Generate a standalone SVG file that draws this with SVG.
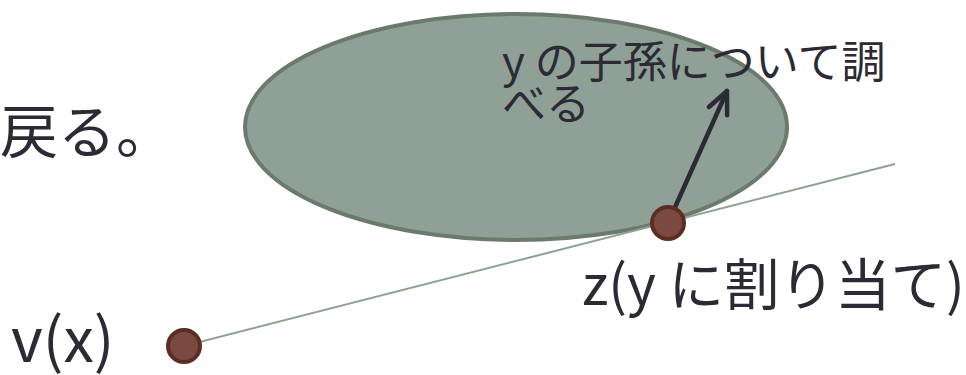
<svg xmlns="http://www.w3.org/2000/svg" width="966" height="375" viewBox="0 0 966 375">
  <defs>
    <style>
      .txt { font-family: "Noto Sans CJK JP", "Noto Sans", sans-serif; fill: #2b2a35; }
      .dot { fill: #7a4a40; stroke: #5b2e24; stroke-width: 4; }
      .edge { stroke: #8ea291; stroke-width: 2; fill: none; }
      .arrow { stroke: #2b2a35; stroke-width: 4.5; fill: none; stroke-linecap: round; stroke-linejoin: round; }
    </style>
    <marker id="chev" markerUnits="userSpaceOnUse" viewBox="-30 -15 34 30" refX="0" refY="0" markerWidth="34" markerHeight="30" orient="auto">
      <path d="M -22 -10 L 0 0 L -22 10" fill="none" stroke="#2b2a35" stroke-width="4.5" stroke-linecap="round" stroke-linejoin="round"/>
    </marker>
  </defs>
  <rect width="966" height="375" fill="#ffffff"/>

  <text class="txt" x="0" y="153" font-size="58">戻る。</text>

  <g id="region">
    <ellipse cx="516" cy="127" rx="271" ry="113" fill="#8fa196" stroke="#6b7a6d" stroke-width="4"/>
  </g>

  <g id="connectors">
    <line class="edge" x1="184" y1="346" x2="895" y2="164"/>
    <line class="arrow" x1="668" y1="223" x2="727" y2="91" marker-end="url(#chev)"/>
  </g>

  <g id="label-descendants">
    <text class="txt" font-size="44"><tspan x="502" y="78">y の子孫について調</tspan><tspan x="502" y="120">べる</tspan></text>
  </g>

  <g id="node-z">
    <circle class="dot" cx="668" cy="223" r="16"/>
    <text class="txt" x="582" y="305" font-size="55.5">z(y に割り当て)</text>
  </g>

  <g id="node-v">
    <circle class="dot" cx="184" cy="346" r="16"/>
    <text class="txt" x="11" y="362" font-size="61">v(x)</text>
  </g>
</svg>
